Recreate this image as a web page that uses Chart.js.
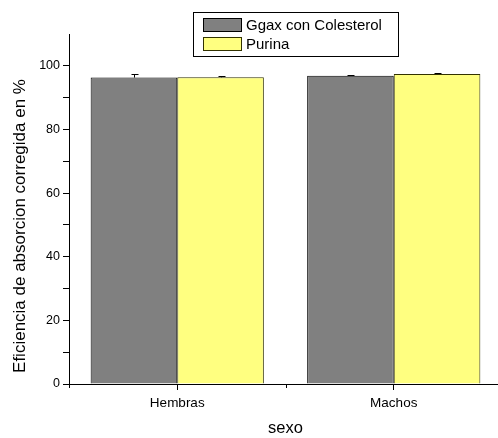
<!DOCTYPE html>
<html>
<head>
<meta charset="utf-8">
<script src="https://cdn.jsdelivr.net/npm/chart.js@4.4.1/dist/chart.umd.min.js"></script>
<style>
  html, body { margin: 0; padding: 0; background: #fff; overflow: hidden; }
  #wrap { width: 504px; height: 438px; }
</style>
</head>
<body>
<div id="wrap"><canvas id="chart" width="504" height="438"></canvas></div>
<script>
// datos por sexo
const categorias = ['Hembras', 'Machos'];
const ggax = [96.3, 96.9];
const ggaxErr = [1.1, 0.2];
const purina = [96.4, 97.4];
const purinaErr = [0.4, 0.3];
const tituloY = 'Eficiencia de absorcion corregida en %';

const FONT = 'Arial, "Liberation Sans", sans-serif';

// barras de error (solo hacia arriba, como en Origin)
const errorBars = {
    id: 'errorBars',
    afterDatasetsDraw(chart) {
        const ctx = chart.ctx;
        const y = chart.scales.y;
        ctx.save();
        ctx.strokeStyle = '#000';
        ctx.lineWidth = 1;
        chart.data.datasets.forEach((ds, i) => {
            const meta = chart.getDatasetMeta(i);
            meta.data.forEach((bar, j) => {
                const top = y.getPixelForValue(ds.data[j] + ds.errores[j]);
                const x = Math.round(bar.x) + 0.5;
                ctx.beginPath();
                ctx.moveTo(x, bar.y);
                ctx.lineTo(x, top);
                ctx.moveTo(x - 3, Math.round(top) + 0.5);
                ctx.lineTo(x + 4, Math.round(top) + 0.5);
                ctx.stroke();
            });
        });
        ctx.restore();
    }
};

// marcas menores entre categorias, titulo vertical y leyenda con recuadro
const extras = {
    id: 'extras',
    afterDraw(chart) {
        const ctx = chart.ctx;
        const x = chart.scales.x;
        const area = chart.chartArea;
        ctx.save();
        ctx.strokeStyle = '#000';
        ctx.lineWidth = 1;
        const paso = (x.getPixelForValue(1) - x.getPixelForValue(0));
        [x.getPixelForValue(0) - paso / 2, x.getPixelForValue(0) + paso / 2].forEach(px => {
            const xx = Math.round(px) + 0.5;
            ctx.beginPath();
            ctx.moveTo(xx, area.bottom);
            ctx.lineTo(xx, area.bottom + 4);
            ctx.stroke();
        });

        // titulo del eje y
        ctx.save();
        ctx.translate(20, 226);
        ctx.rotate(-Math.PI / 2);
        ctx.font = '17px ' + FONT;
        ctx.fillStyle = '#000';
        ctx.textAlign = 'center';
        ctx.textBaseline = 'middle';
        ctx.fillText(tituloY, 0, 0);
        ctx.restore();

        // leyenda
        ctx.strokeRect(193.5, 12.5, 205, 44);
        ctx.font = '15px ' + FONT;
        ctx.textBaseline = 'middle';
        ctx.textAlign = 'left';
        chart.data.datasets.forEach((ds, i) => {
            const sy = 18.5 + i * 19;
            ctx.fillStyle = ds.backgroundColor;
            ctx.fillRect(203.5, sy, 38, 13);
            ctx.strokeStyle = ds.borderColor;
            ctx.strokeRect(203.5, sy, 38, 13);
            ctx.fillStyle = '#000';
            ctx.fillText(ds.label, 246, sy + 7);
        });
        ctx.restore();
    }
};

new Chart(document.getElementById('chart'), {
    type: 'bar',
    data: {
        labels: categorias,
        datasets: [
            {
                label: 'Ggax con Colesterol',
                data: ggax,
                errores: ggaxErr,
                backgroundColor: '#808080',
                borderColor: '#000',
                borderWidth: 1,
                categoryPercentage: 0.8,
                barPercentage: 1.0
            },
            {
                label: 'Purina',
                data: purina,
                errores: purinaErr,
                backgroundColor: '#ffff80',
                borderColor: '#333300',
                borderWidth: 1,
                categoryPercentage: 0.8,
                barPercentage: 1.0
            }
        ]
    },
    options: {
        responsive: false,
        animation: false,
        layout: { padding: { top: 34, right: 2, left: 0, bottom: 0 } },
        plugins: {
            legend: { display: false },
            tooltip: { enabled: false }
        },
        scales: {
            x: {
                grid: { display: true, drawOnChartArea: false, offset: false, tickLength: 6, color: '#000' },
                border: { color: '#000' },
                ticks: { color: '#000', font: { family: FONT, size: 13.5 }, padding: 5 },
                title: { display: true, text: 'sexo', color: '#000', font: { family: FONT, size: 16.5 }, padding: { top: 10, bottom: 0 } },
                afterFit(scale) { scale.height = 54; }
            },
            y: {
                min: 0,
                max: 110,
                grid: {
                    display: true,
                    drawOnChartArea: false,
                    tickLength: 6,
                    tickColor: c => c.tick && c.tick.value === 110 ? 'rgba(0,0,0,0)' : '#000'
                },
                border: { color: '#000' },
                ticks: {
                    stepSize: 10,
                    color: '#000',
                    font: { family: FONT, size: 12.5 },
                    padding: 3,
                    callback: v => (v % 20 === 0 ? v : '')
                },
                afterFit(scale) { scale.width = 69; }
            }
        }
    },
    plugins: [errorBars, extras]
});
</script>
</body>
</html>
